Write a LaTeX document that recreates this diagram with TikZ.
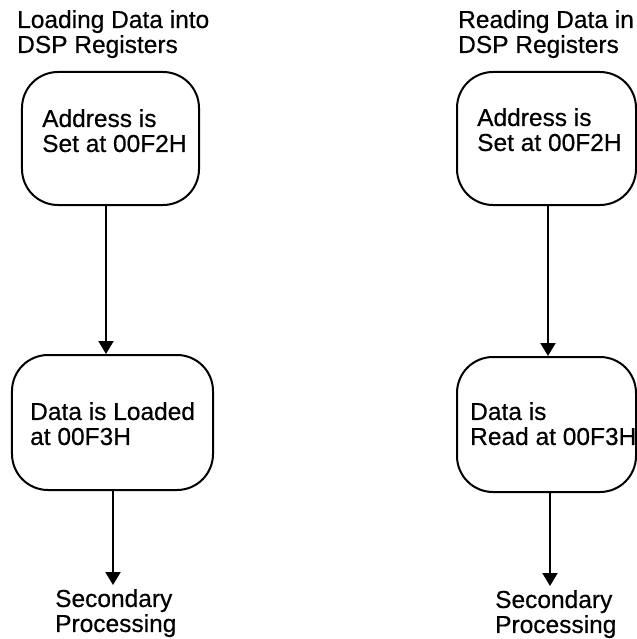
\documentclass[tikz,border=0pt]{standalone}
\usepackage{fontspec}
\setmainfont[FakeBold=0.5]{Liberation Sans}
\usetikzlibrary{arrows.meta}

\begin{document}
\begin{tikzpicture}[x=1bp, y=-1bp,
    etape/.style={draw, line width=2bp, rounded corners=36bp, inner sep=0pt},
    texte/.style={anchor=north west, inner sep=0pt, align=left,
        font=\fontsize{24.5bp}{25bp}\selectfont},
    fleche/.style={line width=2bp, -{Triangle[width=15bp, length=13bp]}}]
    \useasboundingbox (0,0) rectangle (637,639);

    % --- Titres des deux sequences ---
    \node[texte] (titre_load) at (17,10) {Loading Data into\\DSP Registers};
    \node[texte] (titre_read) at (458,10) {Reading Data in\\DSP Registers};

    % ==============================================================
    % SEQUENCE 1 : chargement des donnees
    % ==============================================================
    \node[etape, minimum width=177bp, minimum height=133bp] (addr_load) at (110.5,138.5) {};
    \node[texte] (addr_load_txt) at (42,109) {Address is\\Set at 00F2H};

    \node[etape, minimum width=201bp, minimum height=135bp] (data_load) at (112.5,422.5) {};
    \node[texte] (data_load_txt) at (30,402) {Data is Loaded\\at 00F3H};

    \node[texte] (sec_load) at (55,589) {Secondary\\Processing};

    \draw[fleche] ([xshift=-4.5bp]addr_load.south) -- ([xshift=-4.5bp]addr_load.south |- data_load.north);
    \draw[fleche, shorten >=4bp] ([xshift=0.5bp]data_load.south) -- ([xshift=0.5bp]data_load.south |- sec_load.north);

    % ==============================================================
    % SEQUENCE 2 : lecture des donnees
    % ==============================================================
    \node[etape, minimum width=179bp, minimum height=133bp] (addr_read) at (546.5,138.5) {};
    \node[texte] (addr_read_txt) at (477,108) {Address is\\Set at 00F2H};

    \node[etape, minimum width=179bp, minimum height=135bp] (data_read) at (546.5,424.5) {};
    \node[texte] (data_read_txt) at (470,402) {Data is\\Read at 00F3H};

    \node[texte] (sec_read) at (495,590) {Secondary\\Processing};

    \draw[fleche] ([xshift=1.5bp]addr_read.south) -- ([xshift=1.5bp]addr_read.south |- data_read.north);
    \draw[fleche, shorten >=4bp] ([xshift=3.5bp]data_read.south) -- ([xshift=3.5bp]data_read.south |- sec_read.north);

\end{tikzpicture}
\end{document}
